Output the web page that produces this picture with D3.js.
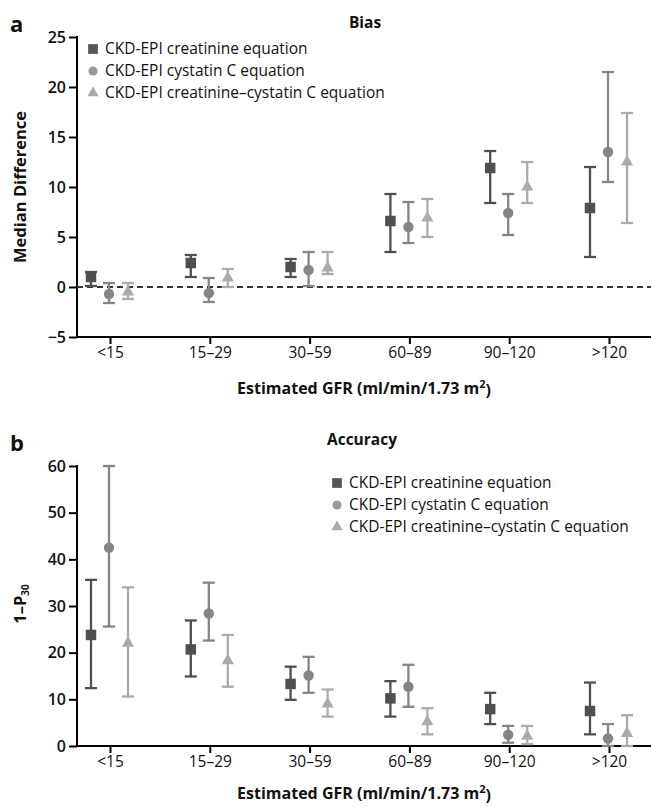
<!DOCTYPE html>
<html>
<head>
<meta charset="utf-8">
<script src="https://cdn.jsdelivr.net/npm/d3@7"></script>
<style>
    body { margin: 0; background: #fff; }
    svg text { font-family: "Open Sans", sans-serif; fill: #111; }
</style>
</head>
<body>
<svg id="chart" width="651" height="807"></svg>
<script>
// GFR categories shared by both panels
const categories = ["<15", "15\u201329", "30\u201359", "60\u201389", "90\u2013120", ">120"];

const seriesNames = [
    "CKD-EPI creatinine equation",
    "CKD-EPI cystatin C equation",
    "CKD-EPI creatinine\u2013cystatin C equation"
];

// Panel a: median difference (estimate, lower, upper)
const biasCreat = [1.0, 2.4, 2.0, 6.6, 11.9, 7.9];
const biasCreatLo = [0.1, 1.0, 1.0, 3.5, 8.4, 3.0];
const biasCreatHi = [1.5, 3.2, 2.8, 9.3, 13.6, 12.0];
const biasCys = [-0.7, -0.6, 1.7, 6.0, 7.4, 13.5];
const biasCysLo = [-1.6, -1.5, 0.1, 4.4, 5.2, 10.5];
const biasCysHi = [0.4, 0.9, 3.5, 8.5, 9.3, 21.5];
const biasBoth = [-0.5, 0.9, 1.9, 6.9, 10.0, 12.5];
const biasBothLo = [-1.2, 0.0, 1.3, 5.0, 8.4, 6.4];
const biasBothHi = [0.4, 1.8, 3.5, 8.8, 12.5, 17.4];

// Panel b: 1 - P30 (estimate, lower, upper)
const accCreat = [23.8, 20.7, 13.3, 10.2, 7.9, 7.5];
const accCreatLo = [12.4, 14.9, 9.9, 6.3, 4.7, 2.5];
const accCreatHi = [35.6, 26.9, 17.0, 13.9, 11.4, 13.6];
const accCys = [42.5, 28.4, 15.1, 12.7, 2.4, 1.6];
const accCysLo = [25.6, 22.6, 11.4, 8.4, 0.7, 0.0];
const accCysHi = [60.0, 35.0, 19.1, 17.4, 4.3, 4.7];
const accBoth = [22.0, 18.3, 9.0, 5.2, 2.1, 2.7];
const accBothLo = [10.6, 12.7, 6.3, 2.5, 0.4, 0.0];
const accBothHi = [34.0, 23.8, 12.1, 8.1, 4.3, 6.6];

const biasTicks = [-5, 0, 5, 10, 15, 20, 25];
const accTicks = [0, 10, 20, 30, 40, 50, 60];

const colors = ["#4f4f4f", "#858585", "#ababab"];
const shapes = [d3.symbolSquare, d3.symbolCircle, d3.symbolTriangle];
const shapeSizes = [110, 85, 65];
const offsets = [-19, -1, 18];

function zipSeries(est, lo, hi) {
    return categories.map((c, i) => ({cat: c, v: est[i], lo: lo[i], hi: hi[i]}));
}

const svg = d3.select("#chart");

function drawPanel(opts) {
    let g = svg.append("g");

    let x = d3.scalePoint().domain(categories).range([110, 609]);
    let y = d3.scaleLinear().domain(opts.domain).range(opts.range);

    let axisLeft = 77;
    let axisBottom = opts.range[0];

    // y axis
    let yAxis = g.append("g")
        .attr("transform", `translate(${axisLeft},0)`)
        .call(d3.axisLeft(y).tickValues(opts.ticks).tickSize(8).tickSizeOuter(0)
            .tickFormat(d => d < 0 ? "\u2212" + Math.abs(d) : d));
    yAxis.select(".domain").remove();
    yAxis.selectAll("line").attr("stroke", "#000").attr("stroke-width", 2);
    yAxis.selectAll("text").attr("font-size", 16).attr("font-family", "Open Sans, sans-serif")
        .attr("font-weight", 600).attr("fill", "#111").attr("x", -11);
    g.append("line")
        .attr("x1", axisLeft).attr("x2", axisLeft)
        .attr("y1", y(opts.domain[1]) - 1).attr("y2", axisBottom + 1)
        .attr("stroke", "#000").attr("stroke-width", 2);

    // x axis
    let xAxis = g.append("g")
        .attr("transform", `translate(0,${axisBottom})`)
        .call(d3.axisBottom(x).tickSize(7).tickSizeOuter(0));
    xAxis.select(".domain").remove();
    xAxis.selectAll("line").attr("stroke", "#000").attr("stroke-width", 2);
    xAxis.selectAll("text").attr("font-size", 15.5).attr("font-family", "Open Sans, sans-serif")
        .attr("font-weight", 500).attr("fill", "#111").attr("y", 10);
    g.append("line")
        .attr("x1", axisLeft - 1).attr("x2", 651)
        .attr("y1", axisBottom).attr("y2", axisBottom)
        .attr("stroke", "#000").attr("stroke-width", 2);

    if (opts.zeroLine) {
        g.append("line")
            .attr("x1", axisLeft).attr("x2", 651)
            .attr("y1", y(0)).attr("y2", y(0))
            .attr("stroke", "#333").attr("stroke-width", 1.8)
            .attr("stroke-dasharray", "6,4");
    }

    // error bars + markers
    opts.series.forEach((data, s) => {
        let sg = g.append("g");
        let cx = d => x(d.cat) + offsets[s];
        sg.selectAll(".bar").data(data).enter().append("line")
            .attr("x1", cx).attr("x2", cx)
            .attr("y1", d => y(d.lo)).attr("y2", d => y(d.hi))
            .attr("stroke", colors[s]).attr("stroke-width", 2.3);
        ["lo", "hi"].forEach(k => {
            sg.selectAll(".cap-" + k).data(data).enter().append("line")
                .attr("x1", d => cx(d) - 6).attr("x2", d => cx(d) + 6)
                .attr("y1", d => y(d[k])).attr("y2", d => y(d[k]))
                .attr("stroke", colors[s]).attr("stroke-width", 2.3);
        });
        sg.selectAll(".mark").data(data).enter().append("path")
            .attr("transform", d => `translate(${cx(d)},${y(d.v)})`)
            .attr("d", d3.symbol().type(shapes[s]).size(shapeSizes[s]))
            .attr("fill", colors[s]);
    });

    // legend
    seriesNames.forEach((name, s) => {
        let ly = opts.legend.y + s * 22;
        g.append("path")
            .attr("transform", `translate(${opts.legend.x},${ly})`)
            .attr("d", d3.symbol().type(shapes[s]).size([95, 65, 55][s]))
            .attr("fill", ["#555", "#999", "#aaa"][s]);
        g.append("text")
            .attr("x", opts.legend.x + 12).attr("y", ly)
            .attr("dy", "0.35em")
            .attr("font-size", 15.5).attr("font-weight", 500)
            .text(name);
    });

    // title
    g.append("text")
        .attr("x", opts.title.x).attr("y", opts.title.y)
        .attr("text-anchor", "middle").attr("dy", "0.35em")
        .attr("font-size", 15.5).attr("font-weight", 700)
        .text(opts.title.text);

    // panel letter
    g.append("text")
        .attr("x", 10).attr("y", opts.letterY)
        .attr("dy", "0.35em")
        .attr("font-size", 22).attr("font-weight", 700)
        .attr("font-family", "Liberation Sans, sans-serif")
        .text(opts.letter);

    // x label
    let xl = g.append("text")
        .attr("x", 364).attr("y", opts.xLabelY)
        .attr("text-anchor", "middle").attr("dy", "0.35em")
        .attr("font-size", 16).attr("font-weight", 700);
    xl.append("tspan").text("Estimated GFR (ml/min/1.73 m");
    xl.append("tspan").attr("font-size", 11).attr("dy", "-0.5em").text("2");
    xl.append("tspan").attr("dy", "0.5em").text(")");

    // y label
    let yl = g.append("text")
        .attr("transform", `translate(20,${opts.yLabelY}) rotate(-90)`)
        .attr("text-anchor", "middle").attr("dy", "0.35em")
        .attr("font-size", 16.5).attr("font-weight", 700);
    opts.yLabel(yl);
}

drawPanel({
    domain: [-5, 25], range: [337, 37], ticks: biasTicks, zeroLine: true,
    series: [
        zipSeries(biasCreat, biasCreatLo, biasCreatHi),
        zipSeries(biasCys, biasCysLo, biasCysHi),
        zipSeries(biasBoth, biasBothLo, biasBothHi)
    ],
    legend: {x: 93, y: 49},
    title: {x: 365, y: 23, text: "Bias"},
    letter: "a", letterY: 24,
    xLabelY: 388, yLabelY: 187,
    yLabel: t => t.text("Median Difference")
});

drawPanel({
    domain: [0, 60], range: [746, 466], ticks: accTicks, zeroLine: false,
    series: [
        zipSeries(accCreat, accCreatLo, accCreatHi),
        zipSeries(accCys, accCysLo, accCysHi),
        zipSeries(accBoth, accBothLo, accBothHi)
    ],
    legend: {x: 337, y: 483},
    title: {x: 362, y: 440, text: "Accuracy"},
    letter: "b", letterY: 443,
    xLabelY: 793, yLabelY: 604,
    yLabel: t => {
        t.append("tspan").text("1\u2013P");
        t.append("tspan").attr("font-size", 10).attr("dy", "0.35em").text("30");
    }
});
</script>
</body>
</html>
